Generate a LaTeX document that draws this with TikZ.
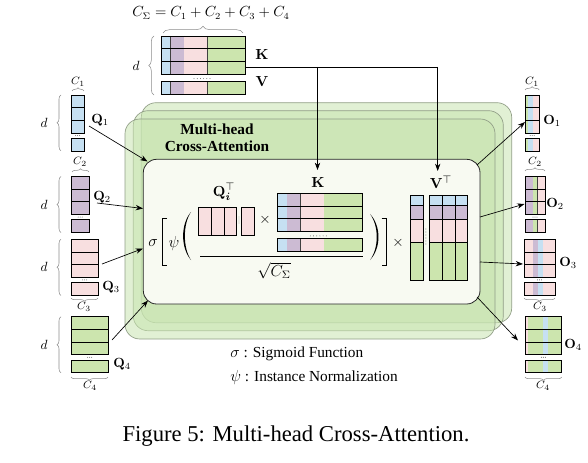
\documentclass[tikz,border=0pt]{standalone}
\usepackage{amsmath}
\usepackage[no-math]{fontspec}
\setmainfont{Liberation Serif}
\usepackage{xcolor}
\usepackage{tikz}
\usetikzlibrary{arrows.meta, decorations.pathreplacing, positioning}

\definecolor{cblue}{RGB}{198,224,242}
\definecolor{cpurple}{RGB}{204,187,211}
\definecolor{cpink}{RGB}{248,223,224}
\definecolor{cgreen}{RGB}{204,229,174}
\definecolor{stackgreen}{RGB}{200,228,176}
\definecolor{stackline}{RGB}{145,158,135}
\definecolor{innerfill}{RGB}{248,250,242}

% one row of a matrix: #1 top y, #2 left x, #3 right x, #4 colour stripes
\newcommand{\cellrow}[4]{%
  \foreach \xa/\xb/\cl in {#4} {\fill[\cl] (\xa,#1) rectangle (\xb,#1+12.7);
    \draw[divline] (\xb,#1) -- (\xb,#1+12.7);}
  \draw[cellline] (#2,#1) rectangle (#3,#1+12.7);}
% three rows, dots, last row
\newcommand{\stackmat}[4]{%
  \foreach \dy in {0,12.7,25.4,43.4} {\cellrow{#1+\dy}{#2}{#3}{#4}}
  \foreach \k in {-2,0,2} \fill[dotcol] ({(#2+#3)/2+\k},{#1+40.6}) circle (0.45);}
% key / value block: #1 left x, #2 top y
\newcommand{\kvmat}[2]{%
  \foreach \dy in {0,12.7,25.4,45.5} {\cellrow{#2+\dy}{#1}{#1+84.7}{#1/#1+9.5/cblue,#1+9.5/#1+23.3/cpurple,#1+23.3/#1+46.7/cpink,#1+46.7/#1+84.7/cgreen}}
  \foreach \k in {0,...,5} \fill[dotcol] ({#1+33+3.2*\k},{#2+42.6}) circle (0.45);}

\begin{document}
\begin{tikzpicture}[x=0.75pt,y=0.75pt,yscale=-1,xscale=1,
  cellline/.style={draw=black, line width=0.7pt},
  divline/.style={draw=black!75, line width=0.35pt},
  dotcol/.style={fill=black!70},
  stackbox/.style={draw=stackline, fill=stackgreen, fill opacity=0.55, rounded corners=11pt, line width=0.5pt},
  innerbox/.style={draw=black!85, fill=innerfill, rounded corners=10pt, line width=0.6pt},
  conn/.style={draw=black, line width=0.5pt},
  arr/.style={conn, -{Stealth[length=5.5pt, width=4pt]}},
  bracedec/.style={draw=black!45, line width=0.4pt, decorate, decoration={brace, amplitude=#1}},
  bracedec/.default=3pt,
  qlabel/.style={font=\fontsize{10}{11}\selectfont, inner sep=0pt},
  slabel/.style={font=\fontsize{8.5}{9}\selectfont, inner sep=0pt},
  inlabel/.style={font=\fontsize{11}{12}\selectfont, inner sep=0pt},
  oplabel/.style={font=\fontsize{11.5}{12}\selectfont, inner sep=0pt},
  plaintext/.style={font=\fontsize{11.5}{13}\selectfont, inner sep=0pt}]
\useasboundingbox (0,0) rectangle (588,463);

%Shape: stacked heads
\draw[stackbox] (141.3,102.7) rectangle (511.7,322.7);
\draw[stackbox] (133.3,110.7) rectangle (503.3,330.7);
\draw[stackbox] (125,119) rectangle (495,339);
%Shape: inner box
\draw[innerbox] (143.3,159.3) rectangle (480,304);

% Text Node
\node[font=\fontsize{11.5}{13}\selectfont\bfseries, align=center, inner sep=0pt] (mhca) at (217,138) {Multi-head\\Cross-Attention};

%Shape: K / V block on top
\kvmat{161}{36}
\draw[bracedec=5pt] (163,33) -- (243,33);
\draw[bracedec=4pt] (154,95) -- (154,36);
\node[plaintext, font=\fontsize{10.5}{12}\selectfont] (csum) at (211,13) {$C_\Sigma = C_1 + C_2 + C_3 + C_4$};
\node[qlabel, font=\fontsize{11}{12}\selectfont] (klab) at (262,54) {$\mathbf{K}$};
\node[qlabel, font=\fontsize{11}{12}\selectfont] (vlab) at (262,81) {$\mathbf{V}$};
\node[qlabel] (dk) at (136,66) {$d$};

%Shape: queries
\stackmat{95}{71}{84.3}{71/84.3/cblue}
\stackmat{176.5}{71}{89.3}{71/89.3/cpurple}
\stackmat{239.3}{71}{98.3}{71/98.3/cpink}
\stackmat{316.7}{71}{108.3}{71/108.3/cgreen}
\draw[bracedec] (61,150.7) -- (61,95);
\draw[bracedec] (61,232.6) -- (61,176.5);
\draw[bracedec] (61,295.4) -- (61,239.3);
\draw[bracedec] (61,372.8) -- (61,316.7);
\draw[bracedec=2.5pt] (72,91) -- (84,91);
\draw[bracedec=2.5pt] (72,172) -- (89,172);
\draw[bracedec=2.5pt] (98,298) -- (71,298);
\draw[bracedec=2.5pt] (108,377) -- (71,377);
\node[qlabel] (d1) at (44,123) {$d$};
\node[qlabel] (d2) at (44,205) {$d$};
\node[qlabel] (d3) at (44,267) {$d$};
\node[qlabel] (d4) at (44,345) {$d$};
\node[slabel] (c1q) at (78,82) {$C_1$};
\node[slabel] (c2q) at (80,162) {$C_2$};
\node[slabel] (c3q) at (84,307) {$C_3$};
\node[slabel] (c4q) at (90,386) {$C_4$};
\node[qlabel] (q1lab) at (100,120) {$\mathbf{Q}_1$};
\node[qlabel] (q2lab) at (102,197) {$\mathbf{Q}_2$};
\node[qlabel] (q3lab) at (111,287) {$\mathbf{Q}_3$};
\node[qlabel] (q4lab) at (122,364) {$\mathbf{Q}_4$};

%Shape: outputs
\stackmat{95}{525}{539.3}{525/528.3/cgreen,528.3/533/cblue,533/539.3/cpink}
\stackmat{176.5}{525}{545}{525/533.3/cpurple,533.3/537.7/cgreen,537.7/545/cpink}
\stackmat{239.3}{524}{555}{524/533.3/cpink,533.3/538.3/cpurple,538.3/543.3/cblue,543.3/555/cpink}
\stackmat{316.7}{525}{561.7}{525/528.3/cpink,528.3/543.3/cgreen,543.3/548.3/cblue,548.3/561.7/cgreen}
\draw[bracedec=2.5pt] (525,90) -- (539.3,90);
\draw[bracedec=2.5pt] (525,171) -- (545,171);
\draw[bracedec=2.5pt] (555,298) -- (524,298);
\draw[bracedec=2.5pt] (561.7,377) -- (525,377);
\node[slabel] (c1o) at (532,82) {$C_1$};
\node[slabel] (c2o) at (535,162) {$C_2$};
\node[slabel] (c3o) at (540,307) {$C_3$};
\node[slabel] (c4o) at (543,386) {$C_4$};
\node[qlabel] (o1lab) at (552,121) {$\mathbf{O}_1$};
\node[qlabel] (o2lab) at (555,204) {$\mathbf{O}_2$};
\node[qlabel] (o3lab) at (568,263) {$\mathbf{O}_3$};
\node[qlabel] (o4lab) at (573,345) {$\mathbf{O}_4$};

%Shape: Q_i^T
\foreach \xa/\xb in {198.3/211.7, 211.7/224.3, 224.3/236.7, 241.7/254.3}
  \draw[cellline, fill=cpink] (\xa,207.7) rectangle (\xb,235.7);
\foreach \k in {0,...,3} \fill[dotcol] (239,217+2*\k) circle (0.45);
%Shape: K inside
\kvmat{277.3}{193.3}
%Shape: V^T
\foreach \xa/\xb in {410.7/423.3, 429.3/442.7, 442.7/455.3, 455.3/467.7}
  \foreach \ya/\yb/\cl in {195.3/205/cblue, 205/219.3/cpurple, 219.3/242.7/cpink, 242.7/280/cgreen}
    \draw[cellline, fill=\cl] (\xa,\ya) rectangle (\xb,\yb);
\foreach \k in {0,...,5} \fill[dotcol] (425.9,229+3*\k) circle (0.45);

% formula
\node[oplabel] (sigma) at (153,243) {$\sigma$};
\node[oplabel] (psi) at (174,243) {$\psi$};
\node[inlabel] (qitlab) at (224,192) {$\mathbf{Q}_{\boldsymbol{i}}^{\top}$};
\node[inlabel] (kin) at (318,182) {$\mathbf{K}$};
\node[inlabel] (vtlab) at (441,182) {$\mathbf{V}^{\top}$};
\node[inlabel] (times1) at (265,220) {$\times$};
\node[inlabel] (times2) at (398,243) {$\times$};
\node[plaintext] (sqrtc) at (274,271) {$\sqrt{C_\Sigma}$};
\draw[conn, line width=0.6pt] (200,256.7) -- (363,256.7);
\draw[line width=0.6pt] (167,218.3) -- (162.3,218.3) -- (162.3,265) -- (167,265);
\draw[line width=0.6pt] (381.7,218.3) -- (386.7,218.3) -- (386.7,265) -- (381.7,265);
\fill (191,212) .. controls (180.5,224) and (180.5,248) .. (191,260) .. controls (182.8,248) and (182.8,224) .. cycle;
\fill (370,214) .. controls (381.3,226) and (381.3,248) .. (370,260) .. controls (379,248) and (379,226) .. cycle;

% connectors
\coordinate (kvout) at (245.7,67);
\coordinate (kbend) at (317.5,67);
\coordinate (vbend) at (437.7,67);
\coordinate (ktip) at (317.5,170);
\coordinate (vtip) at (437.7,171);
\draw[conn] (kvout) -- (vbend);
\draw[arr] (kbend) -- (ktip);
\draw[arr] (vbend) -- (vtip);
\coordinate (q1out) at (89,126);  \coordinate (q1in) at (147.5,161.5);
\coordinate (q2out) at (97,203);  \coordinate (q2in) at (143,208.5);
\coordinate (q3out) at (102,264); \coordinate (q3in) at (143,248.5);
\coordinate (q4out) at (112,340); \coordinate (q4in) at (148,300.5);
\draw[arr] (q1out) -- (q1in);
\draw[arr] (q2out) -- (q2in);
\draw[arr] (q3out) -- (q3in);
\draw[arr] (q4out) -- (q4in);
\coordinate (o1from) at (477,165); \coordinate (o1in) at (525,122);
\coordinate (o2from) at (480,217); \coordinate (o2in) at (524.5,204);
\coordinate (o3from) at (480,262); \coordinate (o3in) at (523,264);
\coordinate (o4from) at (477,297); \coordinate (o4in) at (518,340.5);
\draw[arr] (o1from) -- (o1in);
\draw[arr] (o2from) -- (o2in);
\draw[arr] (o3from) -- (o3in);
\draw[arr] (o4from) -- (o4in);

% legend and caption
\node[plaintext, anchor=west] (leg1) at (230,354) {$\sigma$ : Sigmoid Function};
\node[plaintext, anchor=west] (leg2) at (230,377) {$\psi$ : Instance Normalization};
\node[font=\fontsize{17}{20}\selectfont, inner sep=0pt] (caption) at (296,436) {Figure 5: Multi-head Cross-Attention.};

\end{tikzpicture}
\end{document}
